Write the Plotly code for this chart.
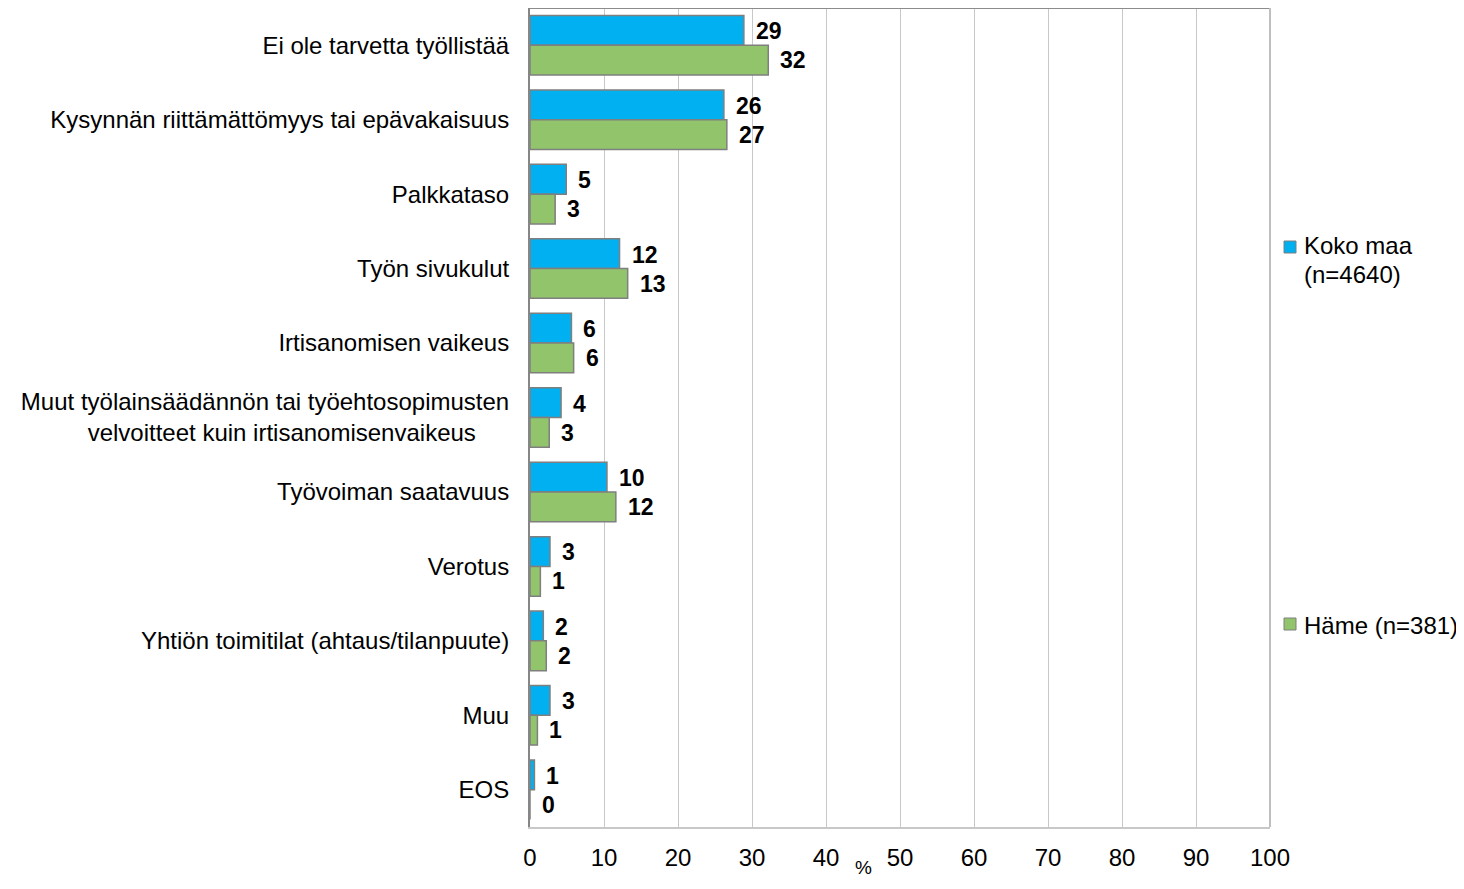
import plotly.graph_objects as go

categories = [
    "Ei ole tarvetta työllistää",
    "Kysynnän riittämättömyys tai epävakaisuus",
    "Palkkataso",
    "Työn sivukulut",
    "Irtisanomisen vaikeus",
    "Muut työlainsäädännön tai työehtosopimusten<br>velvoitteet kuin irtisanomisenvaikeus\u00a0\u00a0\u00a0\u00a0\u00a0",
    "Työvoiman saatavuus",
    "Verotus",
    "Yhtiön toimitilat (ahtaus/tilanpuute)",
    "Muu",
    "EOS",
]
koko_maa = [28.9, 26.2, 4.9, 12.1, 5.6, 4.2, 10.4, 2.7, 1.8, 2.7, 0.6]
hame = [32.2, 26.6, 3.4, 13.2, 5.9, 2.6, 11.6, 1.4, 2.2, 1.0, 0.0]
series_names = ["Koko maa", "(n=4640)", "Häme (n=381)"]
x_ticks = list(range(0, 101, 10))

BLUE = "#00B0F0"
GREEN = "#92C46C"
FONT = "Arial, Liberation Sans, sans-serif"

# page is rendered with an 8px body margin; compensate
OFF = 8
W, H = 1464 - OFF, 889 - 2 * OFF
L, R, T, B = 530 - OFF, 1270 - OFF, 8 - OFF, 827 - OFF


def px(x):
    return (x - OFF - L) / (R - L)


def py(y):
    return (B - (y - OFF)) / (B - T)


fig = go.Figure()
fig.add_trace(go.Bar(orientation="h", y=categories, x=koko_maa, name="Koko maa",
                     marker=dict(color=BLUE, line=dict(color="#7F7F7F", width=1.5))))
fig.add_trace(go.Bar(orientation="h", y=categories, x=hame, name="Häme",
                     marker=dict(color=GREEN, line=dict(color="#7F7F7F", width=1.5))))

annotations = []
for cat, v in zip(categories, koko_maa):
    annotations.append(dict(x=v, y=cat, xref="x", yref="y", text=f"<b>{v:.0f}</b>",
                            showarrow=False, xanchor="left", yanchor="middle",
                            xshift=10, yshift=14, font=dict(size=23, color="black", family=FONT)))
for cat, v in zip(categories, hame):
    annotations.append(dict(x=v, y=cat, xref="x", yref="y", text=f"<b>{v:.0f}</b>",
                            showarrow=False, xanchor="left", yanchor="middle",
                            xshift=10, yshift=-15, font=dict(size=23, color="black", family=FONT)))

# legend texts
annotations.append(dict(x=px(1302), y=py(246), xref="paper", yref="paper", text=series_names[0],
                        showarrow=False, xanchor="left", yanchor="middle",
                        font=dict(size=24, color="black", family=FONT)))
annotations.append(dict(x=px(1302), y=py(275), xref="paper", yref="paper", text=series_names[1],
                        showarrow=False, xanchor="left", yanchor="middle",
                        font=dict(size=24, color="black", family=FONT)))
annotations.append(dict(x=px(1302), y=py(625), xref="paper", yref="paper", text=series_names[2],
                        showarrow=False, xanchor="left", yanchor="middle",
                        font=dict(size=24, color="black", family=FONT)))
# axis title
annotations.append(dict(x=px(863), y=py(867), xref="paper", yref="paper", text="%",
                        showarrow=False, xanchor="center", yanchor="middle",
                        font=dict(size=19, color="black", family=FONT)))

shapes = [
    dict(type="line", xref="paper", yref="paper", x0=0, x1=1, y0=1, y1=1,
         line=dict(color="#8C8C8C", width=2)),
    dict(type="line", xref="paper", yref="paper", x0=1, x1=1, y0=0, y1=1,
         line=dict(color="#BFBFBF", width=2)),
    dict(type="rect", xref="paper", yref="paper", x0=px(1284), x1=px(1296), y0=py(253), y1=py(241),
         fillcolor=BLUE, line=dict(color="#7F7F7F", width=1)),
    dict(type="rect", xref="paper", yref="paper", x0=px(1284), x1=px(1296), y0=py(630), y1=py(618),
         fillcolor=GREEN, line=dict(color="#7F7F7F", width=1)),
]

fig.update_layout(
    width=W, height=H,
    margin=dict(l=L, r=W - R, t=T, b=H - B, pad=0),
    paper_bgcolor="white", plot_bgcolor="white",
    barmode="group", bargap=0.2, bargroupgap=0,
    showlegend=False,
    font=dict(family=FONT, size=24, color="black"),
    annotations=annotations,
    shapes=shapes,
    xaxis=dict(range=[0, 100], tickvals=x_ticks, ticktext=[str(t) for t in x_ticks],
               showgrid=True, gridcolor="#C8C8C8", gridwidth=1.3, zeroline=False,
               showline=True, linecolor="#C8C8C8", linewidth=2,
               ticks="outside", ticklen=8, tickcolor="rgba(0,0,0,0)",
               tickfont=dict(size=24, color="black", family=FONT)),
    yaxis=dict(autorange="reversed", showgrid=False, zeroline=False,
               showline=True, linecolor="#868686", linewidth=2,
               ticks="outside", ticklen=14, tickcolor="rgba(0,0,0,0)",
               tickfont=dict(size=24, color="black", family=FONT)),
)

fig.write_html("out.html")
